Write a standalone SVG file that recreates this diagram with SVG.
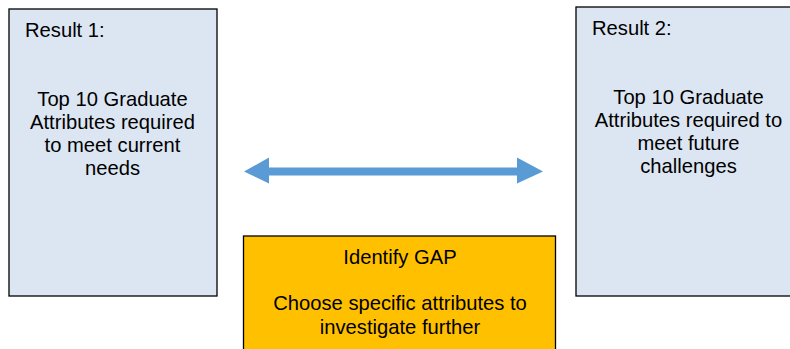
<svg xmlns="http://www.w3.org/2000/svg" width="790" height="349" viewBox="0 0 790 349">
<style>
.box{fill:#DCE6F2;stroke:#000;stroke-width:1.3}
.gap{fill:#FFC000;stroke:#000;stroke-width:1.3}
text{font-family:"Liberation Sans",Arial,sans-serif;font-size:20.2px;fill:#000}
.c{text-anchor:middle}
</style>
<rect width="790" height="349" fill="#fff"/>
<g id="result1">
<rect class="box" x="9" y="9" width="208" height="287"/>
<text x="25" y="37">Result 1:</text>
<text class="c" x="112.5" y="106">Top 10 Graduate</text>
<text class="c" x="112.5" y="129">Attributes required</text>
<text class="c" x="112.5" y="152">to meet current</text>
<text class="c" x="112.5" y="175">needs</text>
</g>
<g id="result2">
<rect class="box" x="576" y="7" width="226" height="289"/>
<text x="592" y="35">Result 2:</text>
<text class="c" x="688.5" y="104">Top 10 Graduate</text>
<text class="c" x="688.5" y="127">Attributes required to</text>
<text class="c" x="688.5" y="150">meet future</text>
<text class="c" x="688.5" y="173">challenges</text>
</g>
<g id="gap">
<rect class="gap" x="243.5" y="236" width="312" height="120"/>
<text class="c" x="400" y="264">Identify GAP</text>
<text class="c" x="400" y="310">Choose specific attributes to</text>
<text class="c" x="400" y="334">investigate further</text>
</g>
<g id="connectors">
<polygon fill="#5B9BD5" points="244,171.5 269,157.5 269,167.5 517,167.5 517,157.5 543,171.5 517,183.5 517,175.5 269,175.5 269,183.5"/>
</g>
</svg>
